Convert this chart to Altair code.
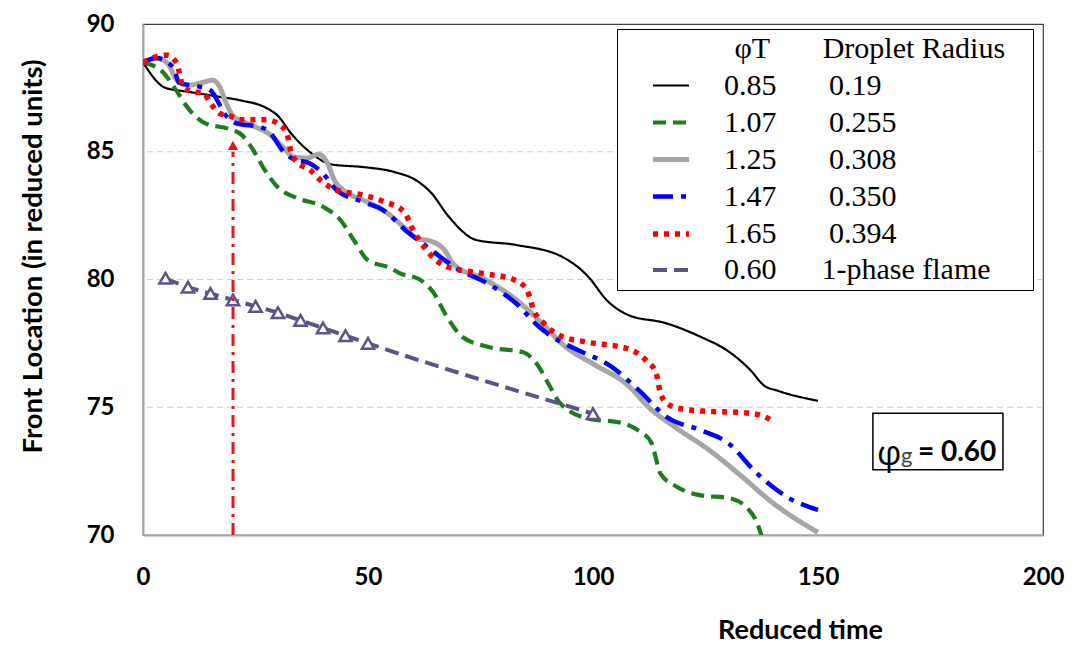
import altair as alt
import pandas as pd

# ---------------- data ----------------
black_t = [0, 5, 10, 17, 22, 27, 30, 33, 37, 42, 49, 56, 61, 64, 68, 74, 83, 93, 99, 103, 108, 116, 124, 130, 135, 138, 141, 150]
black_v = [88.5, 87.5, 87.35, 87.15, 87.0, 86.75, 86.4, 85.7, 85.0, 84.5, 84.4, 84.2, 83.85, 83.4, 82.45, 81.55, 81.35, 80.9, 80.1, 79.2, 78.6, 78.3, 77.75, 77.2, 76.45, 75.85, 75.65, 75.25]

green_t = [0, 4.5, 7, 10.5, 14, 19, 22, 24, 27, 30, 34, 40, 44, 47, 50, 55, 57, 61.5, 64.5, 67.5, 71, 77, 84.5, 87.5, 90, 92.5, 99, 106, 110, 113, 115, 118.5, 124, 130, 134, 136.5, 137.5]
green_v = [88.5, 88.1, 87.5, 86.6, 86.1, 85.9, 85.65, 85.2, 84.3, 83.6, 83.2, 82.85, 82.3, 81.5, 80.75, 80.45, 80.25, 80.0, 79.5, 78.55, 77.75, 77.35, 77.15, 76.7, 75.95, 75.2, 74.55, 74.4, 74.1, 73.6, 72.4, 71.9, 71.55, 71.45, 71.1, 70.45, 69.95]

gray_t = [0, 3, 5.5, 7.5, 10, 13, 15.5, 17, 18.5, 20, 22, 25, 28, 31, 33.5, 36.5, 39, 41, 42.5, 44.5, 49, 53.5, 58, 61, 64, 67, 69, 76, 83, 88, 94, 100, 107.5, 113, 118, 126, 133, 140, 150]
gray_v = [88.5, 88.65, 88.45, 87.8, 87.6, 87.7, 87.8, 87.55, 86.9, 86.4, 86.2, 85.97, 85.7, 85.2, 84.8, 84.75, 84.9, 84.55, 83.9, 83.5, 83.1, 82.7, 82.05, 81.6, 81.5, 81.15, 80.6, 80.0, 79.2, 78.4, 77.35, 76.7, 75.9, 74.9, 74.25, 73.3, 72.3, 71.25, 70.1]

blue_t = [0, 3, 5.5, 7, 8, 12.5, 15, 18.5, 21, 26, 28, 31, 33.5, 37, 40, 43, 49, 53.5, 58.5, 63, 70, 76.5, 83, 88, 91, 96.5, 104, 110, 116.5, 124, 130, 136.5, 143, 150]
blue_v = [88.5, 88.67, 88.5, 88.2, 87.7, 87.55, 87.4, 86.4, 86.1, 85.97, 85.8, 85.05, 84.7, 84.55, 84.15, 83.5, 83.03, 82.7, 81.9, 81.3, 80.4, 79.85, 79.05, 78.15, 77.75, 77.25, 76.6, 75.7, 74.6, 74.1, 73.6, 72.4, 71.5, 70.98]

red_t = [0, 2.7, 5.3, 7.5, 8.2, 8.8, 11, 13.4, 15, 17, 19.3, 21.6, 25, 27.5, 30, 32, 32.8, 34.2, 37, 40, 43, 49, 53.5, 58, 60, 63, 67.5, 75, 82.3, 85.3, 86.8, 89, 92.7, 98.6, 107.5, 110, 112, 114, 115, 116.5, 119.3, 124.4, 132, 137, 140]
red_v = [88.5, 88.7, 88.78, 88.47, 88.0, 87.55, 87.35, 87.3, 86.9, 86.5, 86.4, 86.25, 86.25, 86.25, 86.1, 85.7, 85.05, 84.6, 84.3, 83.8, 83.5, 83.3, 83.05, 82.65, 81.95, 81.15, 80.5, 80.25, 80.0, 79.6, 78.8, 78.3, 77.8, 77.55, 77.3, 77.1, 76.8, 76.35, 75.55, 75.15, 74.95, 74.85, 74.8, 74.7, 74.45]

purple_t = [5, 10, 15, 20, 25, 30, 35, 40, 45, 50, 100]
purple_v = [80.05, 79.7, 79.45, 79.2, 78.95, 78.7, 78.4, 78.1, 77.8, 77.5, 74.75]

phi_T = ["0.85", "1.07", "1.25", "1.47", "1.65", "0.60"]
radius = ["0.19", "0.255", "0.308", "0.350", "0.394", "1-phase flame"]
colors = ["#000000", "#1E7B1E", "#A6A6A6", "#0000FF", "#FF0000", "#5E5387"]
dashes = [[1, 0], [13, 7], [1, 0], [20, 8, 5, 8], [5, 6], [14, 7]]
widths = [2.2, 4.2, 5, 4.5, 5.5, 4]

x_ticks = [0, 50, 100, 150, 200]
y_ticks = [70, 75, 80, 85, 90]
grid_vals = [75, 80, 85]

arrow_t = [20]
arrow_from = [70]
arrow_to = [85.0]
arrow_head = [85.25]

# annotation box (phi_g) in data units
box = {"t0": 162.2, "t1": 191.1, "v0": 72.55, "v1": 74.77, "tv": 73.2}

# ---------------- build tables ----------------
FS = "\u2007"   # figure space
NB = "\u00a0"   # no-break space
ZW = "\u200b"   # zero width, keeps padding from being trimmed
labels = []
for p, r in zip(phi_T, radius):
    gap = FS * 3 + NB if p != "0.60" else FS * 3
    labels.append(p + gap + r)
legend_title = ZW + FS * 7 + NB + "\u03c6T" + FS * 3 + NB + "Droplet Radius" + FS + NB + ZW

series = [(black_t, black_v), (green_t, green_v), (gray_t, gray_v),
          (blue_t, blue_v), (red_t, red_v), (purple_t, purple_v)]
rows = []
for i, (ts, vs) in enumerate(series):
    for t, v in zip(ts, vs):
        rows.append({"t": t, "v": v, "label": labels[i], "order": i})
df = pd.DataFrame(rows)

pur = pd.DataFrame({"t": purple_t, "v": purple_v})
grid_df = pd.DataFrame({"g": grid_vals})
arrow_df = pd.DataFrame({"t": arrow_t, "a": arrow_from, "b": arrow_to, "h": arrow_head})
box_df = pd.DataFrame([box])

xscale = alt.Scale(domain=[0, 200], nice=False)
yscale = alt.Scale(domain=[70, 90], nice=False, zero=False)

xaxis = alt.Axis(values=x_ticks, grid=False, ticks=False, labelFont="Lato", labelFontSize=24,
                 labelFontWeight="bold", labelColor="black", labelPadding=30, labelFlush=False,
                 domainColor="#A6A6A6", domainWidth=2, title="Reduced time",
                 titleFont="Lato", titleFontSize=27, titleFontWeight="bold", titleColor="black",
                 titleX=657, titleY=95, titleAlign="center", titleBaseline="middle")
yaxis = alt.Axis(values=y_ticks, grid=False, ticks=False, labelFont="Lato", labelFontSize=24,
                 labelFontWeight="bold", labelColor="black", labelPadding=29, labelFlush=False,
                 domainColor="#A6A6A6", domainWidth=2, title="Front Location (in reduced units)",
                 titleFont="Lato", titleFontSize=27.5, titleFontWeight="bold", titleColor="black",
                 titleX=-110, titleY=232, titleAngle=270, titleAlign="center", titleBaseline="middle")

grid = alt.Chart(grid_df).mark_rule(color="#C3D3DC", strokeWidth=1, strokeDash=[6, 4]).encode(
    y=alt.Y("g:Q", scale=yscale, axis=yaxis)
)

legend = alt.Legend(
    title=legend_title, orient="none", legendX=474, legendY=5,
    symbolType="stroke", symbolSize=1296, symbolOffset=28, labelOffset=32,
    labelFont="Liberation Serif", labelFontSize=30, labelColor="black", labelLimit=600,
    titleFont="Liberation Serif", titleFontSize=30, titleFontWeight="normal", titleColor="black",
    titleLimit=700, titlePadding=2, padding=5, rowPadding=1,
    strokeColor="black", fillColor="white", cornerRadius=0,
)

lines = alt.Chart(df).mark_line(interpolate="monotone", clip=True).encode(
    x=alt.X("t:Q", scale=xscale, axis=xaxis),
    y=alt.Y("v:Q", scale=yscale, axis=yaxis),
    color=alt.Color("label:N", scale=alt.Scale(domain=labels, range=colors), legend=legend),
    strokeDash=alt.StrokeDash("label:N", scale=alt.Scale(domain=labels, range=dashes), legend=legend),
    strokeWidth=alt.StrokeWidth("label:N", scale=alt.Scale(type="ordinal", domain=labels, range=widths), legend=legend),
    order=alt.Order("t:Q"),
)

tri = alt.Chart(pur).mark_point(shape="triangle-up", filled=True, fill="white", stroke="#5E5387",
                                strokeWidth=2.5, size=150, opacity=1, clip=True).encode(
    x=alt.X("t:Q", scale=xscale), y=alt.Y("v:Q", scale=yscale)
)

arrow = alt.Chart(arrow_df).mark_rule(color="#E8141E", strokeWidth=3, strokeDash=[12, 6, 3, 6]).encode(
    x=alt.X("t:Q", scale=xscale), y=alt.Y("a:Q", scale=yscale), y2="b:Q"
)
head = alt.Chart(arrow_df).mark_point(shape="triangle-up", filled=True, color="#E8141E", size=110, opacity=1).encode(
    x=alt.X("t:Q", scale=xscale), y=alt.Y("h:Q", scale=yscale)
)

rect = alt.Chart(box_df).mark_rect(fill="white", stroke="black", strokeWidth=1.5).encode(
    x=alt.X("t0:Q", scale=xscale), x2="t1:Q", y=alt.Y("v0:Q", scale=yscale), y2="v1:Q"
)
t_phi = alt.Chart(box_df).mark_text(text="\u03c6", font="Open Sans", fontSize=34, align="left",
                                    baseline="middle", dx=4, dy=2, color="black").encode(
    x=alt.X("t0:Q", scale=xscale), y=alt.Y("tv:Q", scale=yscale)
)
t_g = alt.Chart(box_df).mark_text(text="g", font="Lato", fontSize=22, align="left",
                                  baseline="middle", dx=28, dy=3, color="#404040").encode(
    x=alt.X("t0:Q", scale=xscale), y=alt.Y("tv:Q", scale=yscale)
)
t_val = alt.Chart(box_df).mark_text(text="= 0.60", font="Lato", fontSize=28, fontWeight="bold",
                                    align="left", baseline="middle", dx=45, dy=0, color="black").encode(
    x=alt.X("t0:Q", scale=xscale), y=alt.Y("tv:Q", scale=yscale)
)

chart = alt.layer(grid, lines, tri, arrow, head, rect, t_phi, t_g, t_val).properties(
    width=900, height=511,
    autosize=alt.AutoSizeParams(type="none"),
    padding={"left": 143, "top": 24, "right": 31, "bottom": 120},
    background="white",
).configure_view(stroke="#404040", strokeWidth=1.2)

chart.save("out.html", embed_options={"renderer": "svg", "actions": False})
